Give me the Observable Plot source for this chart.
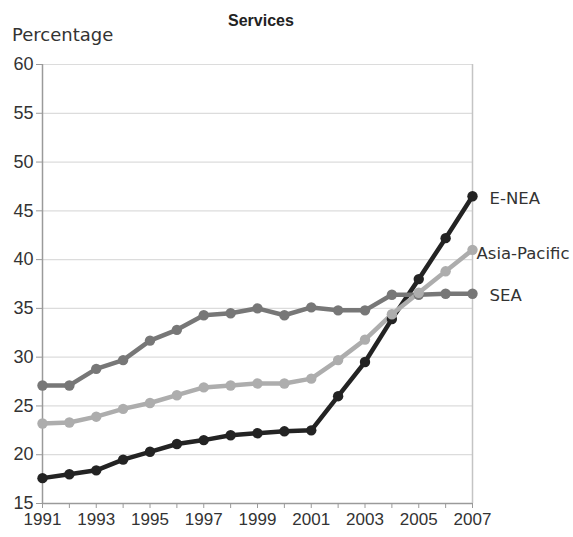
<!DOCTYPE html>
<html>
<head>
<meta charset="utf-8">
<script src="https://cdn.jsdelivr.net/npm/d3@7"></script>
<script src="https://cdn.jsdelivr.net/npm/@observablehq/plot@0.6"></script>
<style>
  body { margin: 0; background: white; }
  #wrap { position: relative; width: 573px; height: 537px; }
  #title { position: absolute; left: 228px; top: 12px; font: bold 16px "Liberation Sans", Arial, sans-serif; color: #222; }
  #ylab { position: absolute; left: 12px; top: 24px; font: 18px "DejaVu Sans", sans-serif; color: #333; }
  #chart { position: absolute; left: 0; top: 0; }
</style>
</head>
<body>
<div id="wrap">
  <div id="chart"></div>
  <div id="title">Services</div>
  <div id="ylab">Percentage</div>
</div>
<script>
const years = [1991,1992,1993,1994,1995,1996,1997,1998,1999,2000,2001,2002,2003,2004,2005,2006,2007];
const seriesNames = ["E-NEA", "SEA", "Asia-Pacific"];
const eNEA = [17.6,18.0,18.4,19.5,20.3,21.1,21.5,22.0,22.2,22.4,22.5,26.0,29.5,33.9,38.0,42.2,46.5];
const sea = [27.1,27.1,28.8,29.7,31.7,32.8,34.3,34.5,35.0,34.3,35.1,34.8,34.8,36.4,36.4,36.5,36.5];
const asiaPacific = [23.2,23.3,23.9,24.7,25.3,26.1,26.9,27.1,27.3,27.3,27.8,29.7,31.8,34.4,36.6,38.8,41.0];
const yTicks = [15,20,25,30,35,40,45,50,55,60];
const xLabelYears = [1991,1993,1995,1997,1999,2001,2003,2005,2007];
const colors = ["#232323", "#777777", "#adadad"];

const valuesBySeries = {"E-NEA": eNEA, "SEA": sea, "Asia-Pacific": asiaPacific};
const data = seriesNames.flatMap(s => years.map((year, i) => ({series: s, year, value: valuesBySeries[s][i]})));
const lastOf = s => data.filter(d => d.series === s && d.year === years[years.length - 1]);
const labelStyle = {x: "year", y: "value", text: "series", textAnchor: "start", fontSize: 16.5, fontFamily: "'DejaVu Sans', sans-serif", fill: "#333"};

const chart = Plot.plot({
  width: 573,
  height: 537,
  marginTop: 64,
  marginBottom: 34,
  marginLeft: 42,
  marginRight: 101,
  style: {fontFamily: "'Liberation Sans', Arial, sans-serif", background: "white", color: "#333", overflow: "visible"},
  x: {domain: [1991, 2007]},
  y: {domain: [15, 60]},
  color: {domain: seriesNames, range: colors},
  marks: [
    Plot.gridY(yTicks, {stroke: "#dcdcdc", strokeOpacity: 1, strokeWidth: 1.2}),
    Plot.ruleX([2007], {stroke: "#c4c4c4", strokeWidth: 1.5}),
    Plot.ruleX([1991], {stroke: "#9a9a9a", strokeWidth: 1.5}),
    Plot.ruleY([15], {stroke: "#9a9a9a", strokeWidth: 1.5}),
    Plot.axisY({ticks: yTicks, tickSize: 6, tickPadding: 3, fontSize: 18, label: null, stroke: "#9a9a9a", fill: "#333"}),
    Plot.axisX({ticks: years, tickFormat: d => xLabelYears.includes(d) ? String(d) : "", tickSize: 5, tickPadding: 4, fontSize: 17, label: null, stroke: "#9a9a9a", fill: "#333"}),
    Plot.line(data, {x: "year", y: "value", z: "series", stroke: "series", strokeWidth: 4.5, strokeLinejoin: "round"}),
    Plot.dot(data, {x: "year", y: "value", fill: "series", r: 5.2}),
    Plot.text(lastOf("E-NEA"), {...labelStyle, dx: 17, dy: 3}),
    Plot.text(lastOf("Asia-Pacific"), {...labelStyle, dx: 4, dy: 4}),
    Plot.text(lastOf("SEA"), {...labelStyle, dx: 17, dy: 2})
  ]
});
document.getElementById("chart").appendChild(chart);
</script>
</body>
</html>
